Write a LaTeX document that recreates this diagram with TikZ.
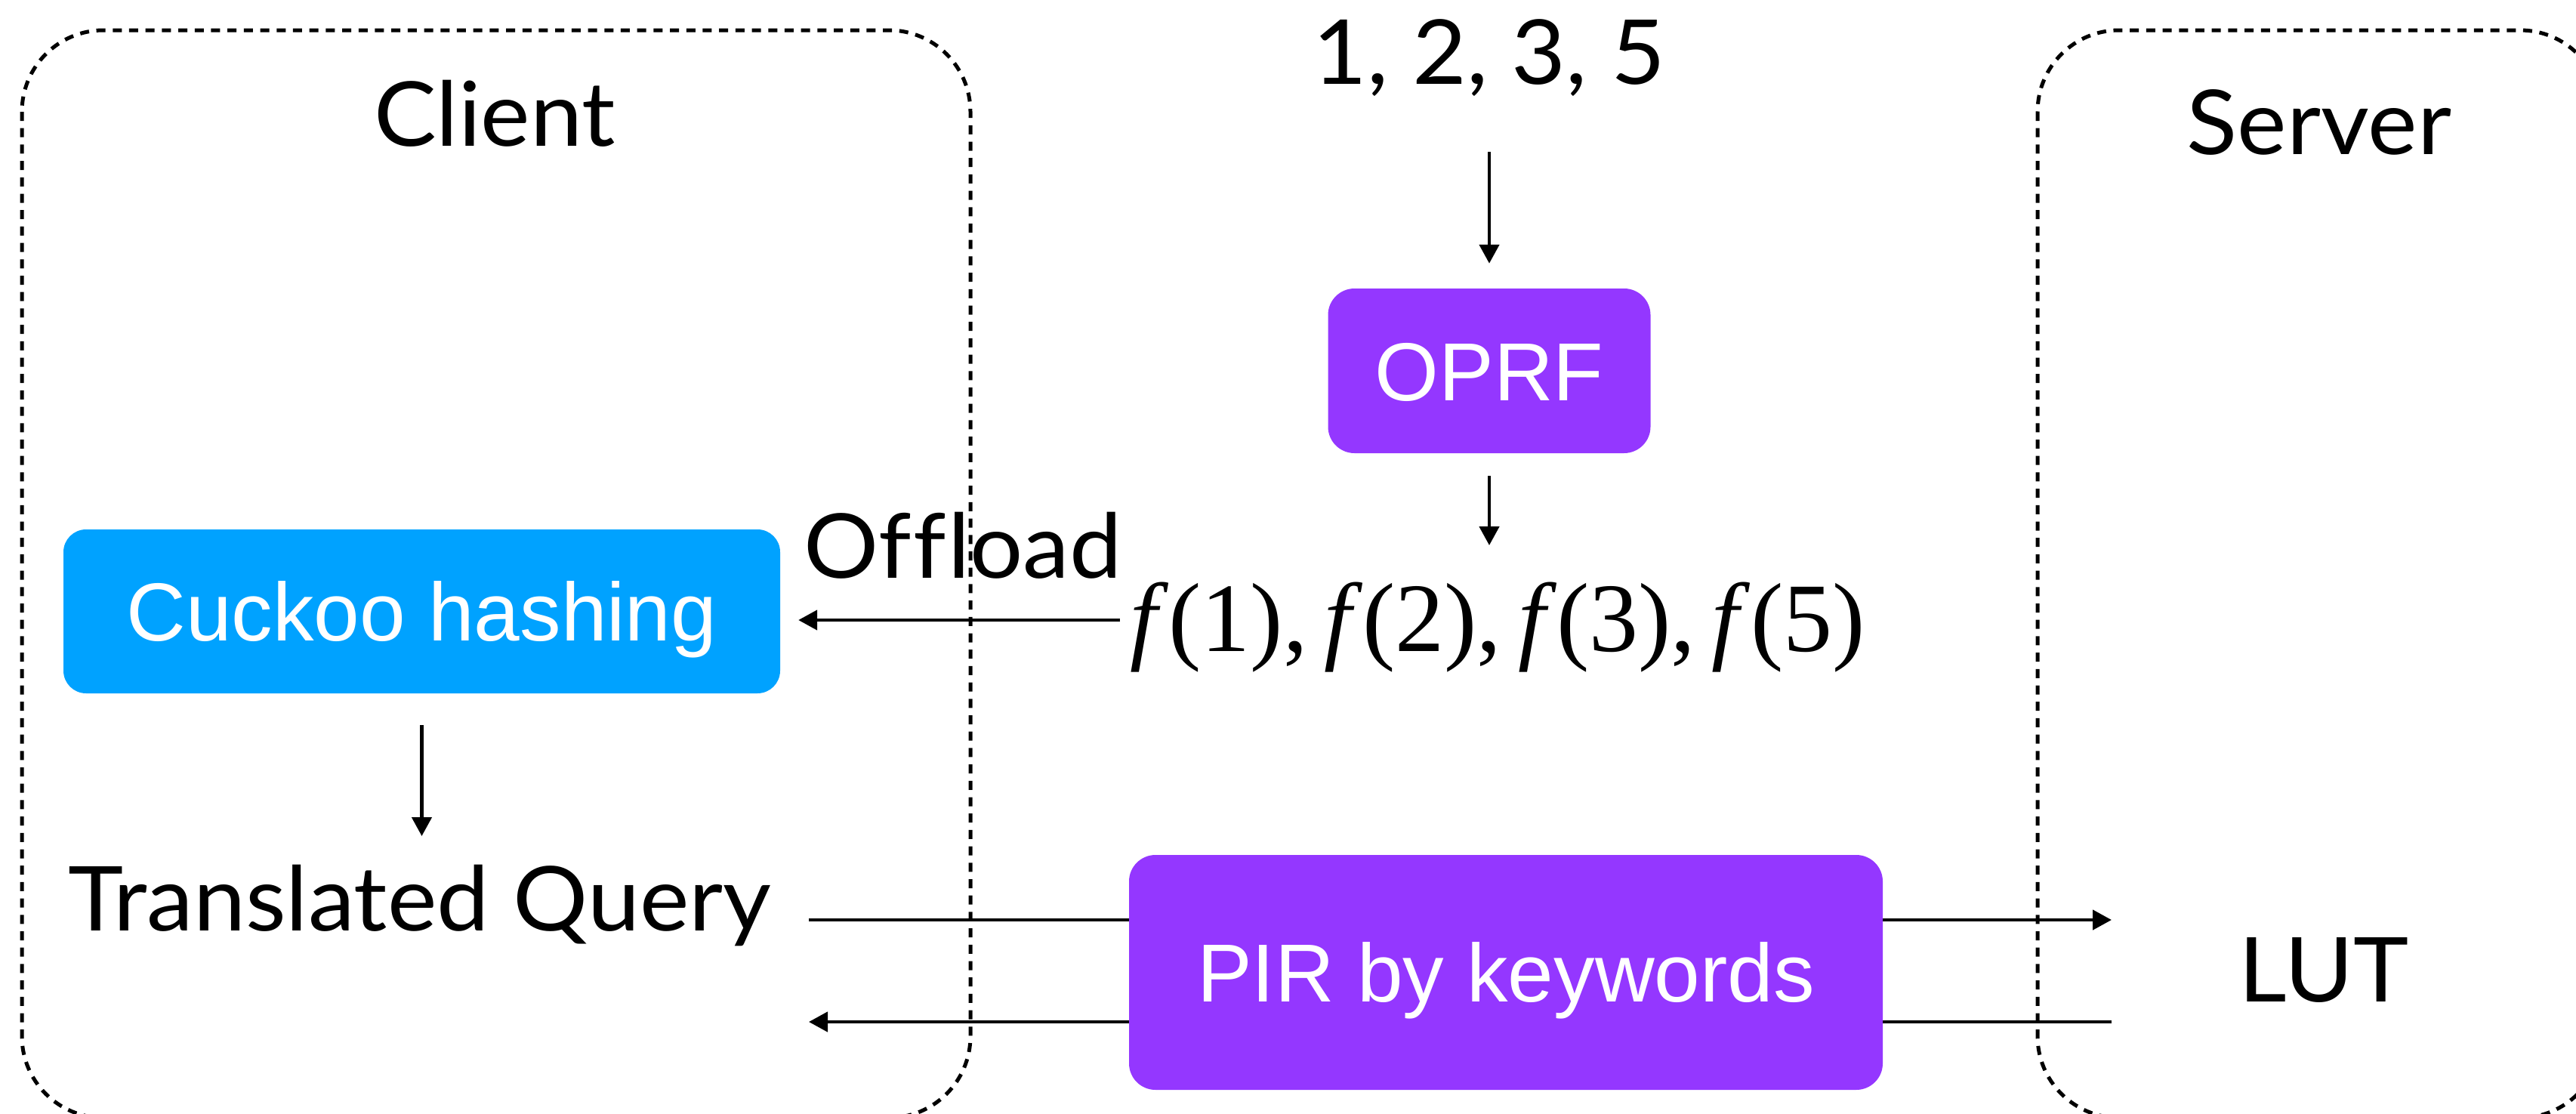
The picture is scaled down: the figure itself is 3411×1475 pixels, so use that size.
\documentclass[tikz,border=0pt]{standalone}
\usepackage{fontspec}
\setmainfont{Liberation Serif}
\newfontfamily\avfont[FakeStretch=1.045]{Lato}
\newfontfamily\hvfont{Liberation Sans}
\usetikzlibrary{arrows.meta,calc}
\definecolor{kpurple}{HTML}{9437FF}
\definecolor{kblue}{HTML}{00A2FF}
\begin{document}
\begin{tikzpicture}[x=1pt,y=-1pt,
  region/.style={draw, line width=5pt, dash pattern=on 12pt off 9.7pt, rounded corners=108pt},
  lbl/.style={font=\avfont\fontsize{118.6}{140}\selectfont, inner sep=0pt, anchor=base},
  procbox/.style={rounded corners=35pt, text=white, font=\hvfont\fontsize{109}{130}\selectfont,
    inner sep=0pt, text height=78pt, text depth=0pt},
  arr/.style={-{Triangle[length=25pt,width=26pt]}, line width=4.5pt}
]
\useasboundingbox (0,0) rectangle (3411,1475);
\clip (0,0) rectangle (3411,1475);

% client / server regions
\draw[region] (29,40) rectangle (1285,1480);
\draw[region] (2698,40) rectangle (3445,1480);

% labels
\node[lbl] (client) at (655,193) {Client};
\node[lbl] (server) at (3071,204) {Server};
\node[lbl] (nums) at (1972,111) {1, 2, 3, 5};
\node[lbl] (offload) at (1275,765) {Of\kern3pt f\kern2pt load};
\node[lbl] (tq) at (556,1232) {Translated Query};
\node[lbl] (lut) at (3077,1326) {LUT};
\node[anchor=base, inner sep=0pt, font=\fontsize{130}{150}\selectfont] (fvals) at (1983,862)
  {\textit{f\/}(1),\,\textit{f\/}(2),\,\textit{f\/}(3),\,\textit{f\/}(5)};

% process boxes
\node[procbox, fill=kpurple, minimum width=427pt, minimum height=218pt] (oprf) at (1972,491) {OPRF};
\node[procbox, fill=kblue, rounded corners=30pt, minimum width=949pt, minimum height=217pt] (cuckoo) at (558.5,809.5) {Cuckoo hashing};

% connectors
\draw[arr, shorten <=90pt, shorten >=33pt] (nums.base) -- (oprf.north);
\draw[arr, shorten <=30pt, shorten >=140pt] (oprf.south) -- (oprf.south |- fvals.base);
\coordinate (offS) at (1483,821);
\draw[arr, shorten >=24pt] (offS) -- (cuckoo.east |- offS);
\draw[arr, shorten <=42pt, shorten >=125pt] (cuckoo.south) -- (cuckoo.south |- tq.base);

\coordinate (qOut) at (1071,1218);
\coordinate (lutIn) at (2796,1218);
\coordinate (lutOut) at (2796,1353);
\coordinate (qIn) at (1071,1353);
\draw[arr] (qOut) -- (lutIn);
\draw[arr] (lutOut) -- (qIn);

\node[procbox, fill=kpurple, minimum width=998pt, minimum height=311pt] (pir) at (1994,1287.5) {PIR by keywords};
\end{tikzpicture}
\end{document}
